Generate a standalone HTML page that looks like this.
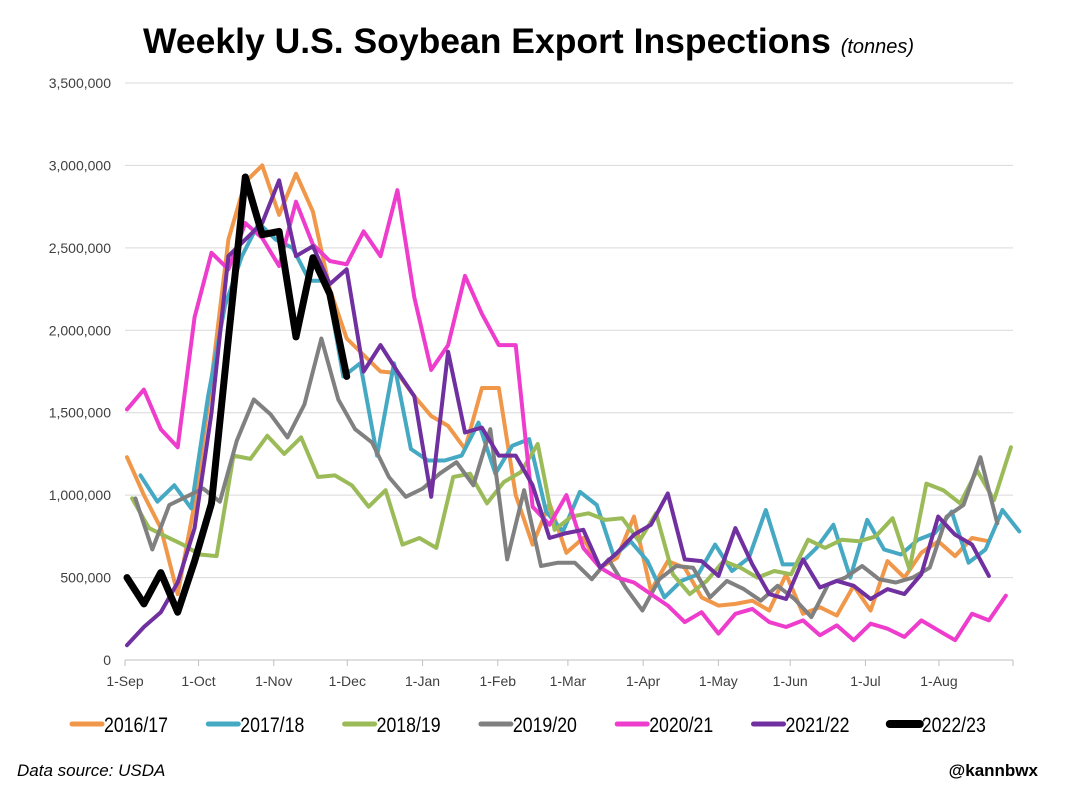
<!DOCTYPE html>
<html><head><meta charset="utf-8"><style>
body{margin:0;background:#fff;width:1069px;height:789px;overflow:hidden;font-family:"Liberation Sans",sans-serif}
</style></head><body>
<svg id="chart" width="1069" height="789" xmlns="http://www.w3.org/2000/svg" font-family="Liberation Sans, sans-serif">
<text x="143" y="53" font-size="35.5" font-weight="bold" fill="#000">Weekly U.S. Soybean Export Inspections <tspan font-size="20" font-style="italic" font-weight="normal">(tonnes)</tspan></text>
<g id="grid"></g><g id="yticks"></g><g id="xticks"></g><g id="series"></g><g id="legend"></g>
<text x="17" y="776" font-size="17" font-style="italic">Data source: USDA</text>
<text x="1038" y="776" font-size="17" font-weight="bold" text-anchor="end">@kannbwx</text>
</svg>
<script>
const yTicks=[0,500000,1000000,1500000,2000000,2500000,3000000,3500000];
const xLabels=['1-Sep','1-Oct','1-Nov','1-Dec','1-Jan','1-Feb','1-Mar','1-Apr','1-May','1-Jun','1-Jul','1-Aug'];
const xLabelWeeks=[0,4.3,8.7,13,17.4,21.8,25.9,30.3,34.7,38.9,43.3,47.6];
const seriesNames=['2016/17','2017/18','2018/19','2019/20','2020/21','2021/22','2022/23'];
const seriesColors=['#f0974a','#46a9c3','#9bbb59','#808080','#ee3ccc','#7030a0','#000000'];
const seriesStart=[0,0.8,0.3,0.5,0,0,0];
const s1617=[1230,1000,800,400,950,1700,2550,2900,3000,2700,2950,2720,2250,1950,1850,1750,1740,1600,1480,1420,1280,1650,1650,1000,700,950,650,740,560,620,870,420,600,560,380,330,340,360,300,520,280,320,270,450,300,600,500,650,720,630,740,720];
const s1718=[1120,960,1060,920,1600,2150,2450,2650,2550,2500,2300,2300,1720,1800,1240,1800,1280,1210,1210,1240,1440,1130,1300,1340,900,780,1020,940,630,720,600,380,480,520,700,540,620,910,580,580,680,820,500,850,670,640,730,770,900,590,670,910,780];
const s1819=[980,800,750,700,640,630,1240,1220,1360,1250,1350,1110,1120,1060,930,1030,700,740,680,1110,1130,950,1080,1140,1310,790,870,890,850,860,720,890,520,400,480,600,560,500,540,520,730,680,730,720,750,860,550,1070,1030,950,1150,970,1290];
const s1920=[980,670,940,990,1040,960,1330,1580,1490,1350,1550,1950,1580,1400,1320,1110,990,1040,1130,1200,1060,1400,610,1030,570,590,590,490,610,440,300,490,570,560,380,480,430,360,450,370,260,460,500,570,490,470,500,560,870,940,1230,830];
const s2021=[1520,1640,1400,1290,2080,2470,2370,2650,2560,2390,2780,2520,2420,2400,2600,2450,2850,2200,1760,1910,2330,2100,1910,1910,930,820,1000,680,560,500,470,400,330,230,290,160,280,310,230,200,240,150,210,120,220,190,140,240,180,120,280,240,390];
const s2122=[90,200,290,470,800,1500,2450,2550,2650,2910,2450,2510,2280,2370,1750,1910,1750,1600,990,1870,1380,1410,1240,1240,1060,740,770,790,560,650,760,820,1010,610,600,510,800,580,400,370,610,440,480,450,370,430,400,520,870,760,700,510];
const s2223=[500,340,530,290,600,950,1950,2930,2580,2600,1960,2440,2220,1720];
const seriesData=[s1617,s1718,s1819,s1920,s2021,s2122,s2223];
const NS='http://www.w3.org/2000/svg';
const X0=125,X1=1013,Y0=660,Y1=83;
const xs=w=>X0+2+w*16.9;
const ys=v=>Y0-(v/3500000)*(Y0-Y1);
function mk(tag,attrs,parent){const e=document.createElementNS(NS,tag);for(const k in attrs)e.setAttribute(k,attrs[k]);parent.appendChild(e);return e;}
const grid=document.getElementById('grid'),yt=document.getElementById('yticks'),xt=document.getElementById('xticks'),sg=document.getElementById('series'),lg=document.getElementById('legend');
yTicks.forEach(v=>{
  const l=mk('line',{x1:X0,x2:X1,y1:ys(v),y2:ys(v),stroke:v===0?'#bfbfbf':'#d9d9d9','stroke-width':1},grid);
  
  
  const t=mk('text',{x:111,y:ys(v)+5,'font-size':14,'text-anchor':'end',fill:'#404040'},yt);
  t.textContent=v.toLocaleString('en-US');
  
  
});
xLabels.forEach((lab,i)=>{
  const x=X0+xLabelWeeks[i]*17.1;
  mk('line',{x1:x,x2:x,y1:Y0,y2:Y0+6,stroke:'#bfbfbf'},xt);
  const t=mk('text',{x:x,y:686,'font-size':14,'text-anchor':'middle',fill:'#404040'},xt);
  t.textContent=lab;
  
  
});
mk('line',{x1:X1,x2:X1,y1:Y0,y2:Y0+6,stroke:'#bfbfbf'},xt);
seriesData.forEach((d,si)=>{
  const pts=d.map((v,i)=>xs(seriesStart[si]+i).toFixed(1)+','+ys(v*1000).toFixed(1)).join(' ');
  const p=mk('polyline',{points:pts,fill:'none',stroke:seriesColors[si],'stroke-width':si===6?7:4,'stroke-linejoin':'round','stroke-linecap':'round'},sg);
  
  
});
seriesNames.forEach((n,i)=>{
  const x=72+i*136.3;
  const g=mk('g',{},lg);
  
  
  mk('line',{x1:x,x2:x+30,y1:724,y2:724,stroke:seriesColors[i],'stroke-width':i===6?8:5,'stroke-linecap':'round'},g);
  const t=mk('text',{x:x+32,y:732,'font-size':21,fill:'#000',textLength:64,lengthAdjust:'spacingAndGlyphs'},g);
  t.textContent=n;
});
</script>
</body></html>
